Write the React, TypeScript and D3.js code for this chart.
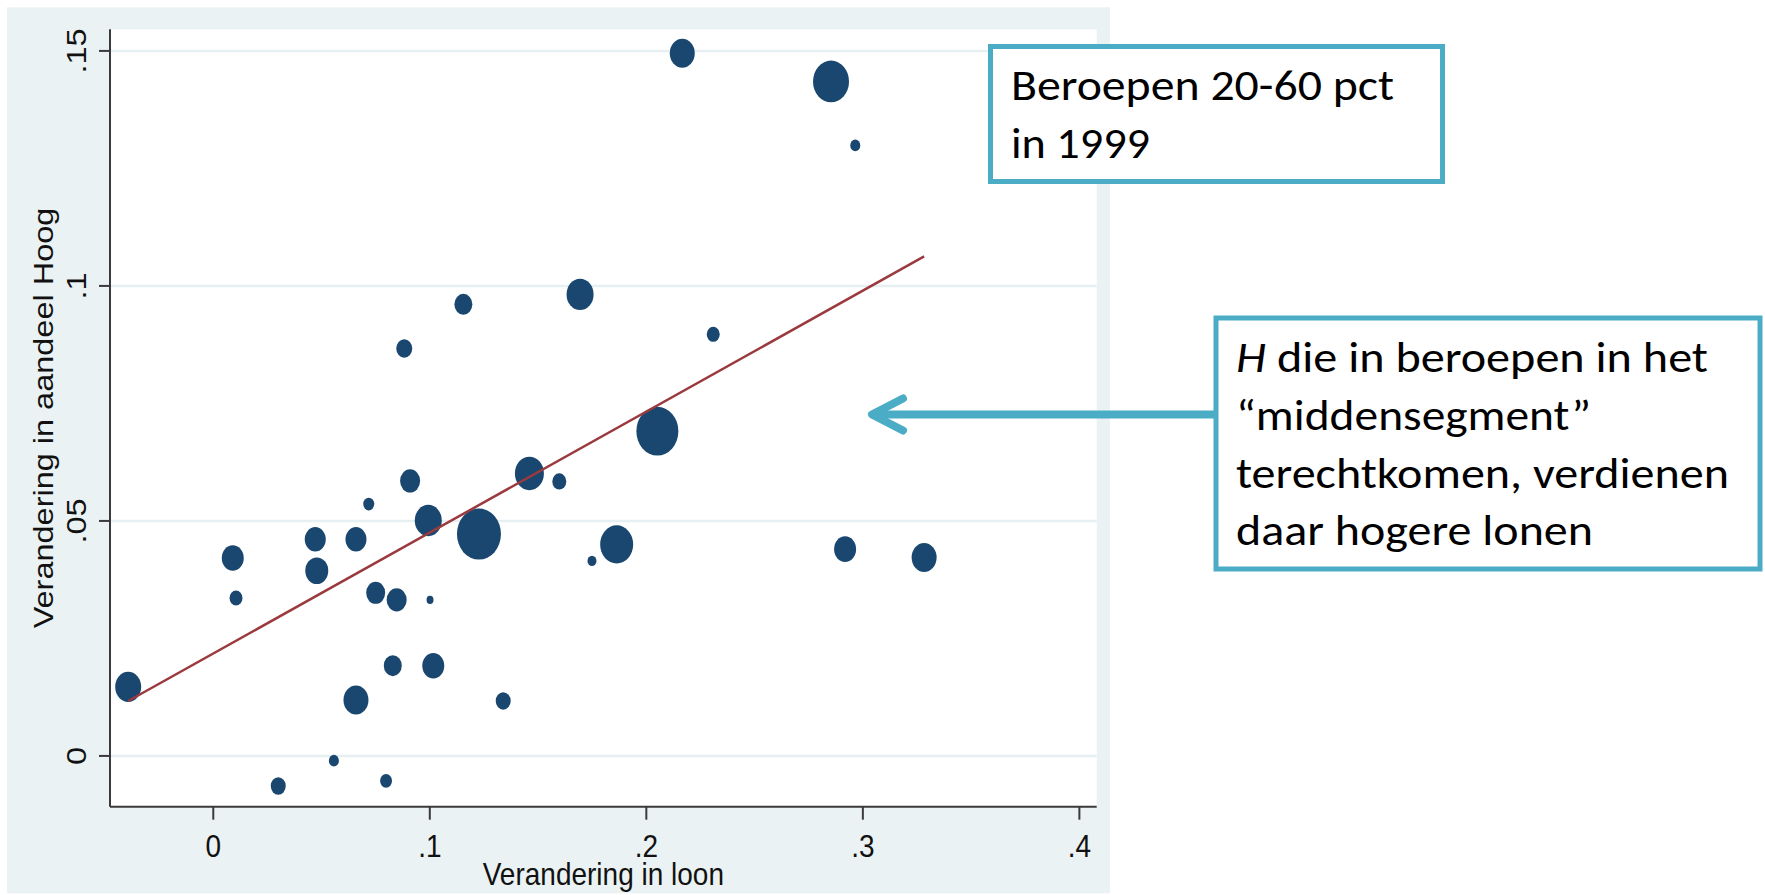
import React from "react";
import * as d3 from "d3";

// ---- data ----
const xLoon = [
  -0.0393, 0.009, 0.0105, 0.0471, 0.0478, 0.0659, 0.0718, 0.0909, 0.0993, 0.1227,
  0.146, 0.1598, 0.1749, 0.1863, 0.075, 0.0847, 0.1001, 0.0829, 0.1016, 0.0659,
  0.1339, 0.0557, 0.03, 0.0798, 0.2051, 0.2918, 0.3283, 0.0882, 0.1155, 0.1694,
  0.2166, 0.2853, 0.2965, 0.2309,
];
const yHoog = [
  0.0147, 0.0421, 0.0336, 0.0461, 0.0394, 0.0461, 0.0536, 0.0585, 0.0501, 0.0472,
  0.0601, 0.0584, 0.0415, 0.045, 0.0347, 0.0332, 0.0332, 0.0192, 0.0192, 0.0119,
  0.0117, -0.001, -0.0064, -0.0053, 0.0691, 0.044, 0.0422, 0.0867, 0.0961, 0.0982,
  0.1495, 0.1435, 0.1299, 0.0897,
];
const weights = [
  34.9, 25, 8.7, 22.8, 27.3, 22.8, 6.25, 20.7, 37.7, 100,
  43.4, 10.1, 4.2, 56.3, 18.6, 20.7, 2.5, 16.7, 25, 32.3,
  11.6, 5.2, 11.6, 7.4, 91.1, 25, 32.3, 13.2, 16.7, 37.7,
  32.3, 66.9, 5.2, 8.7,
];
const fitIntercept = 0.0218;
const fitSlope = 0.2573;

const xTicks = [0, 0.1, 0.2, 0.3, 0.4];
const xTickLabels = ["0", ".1", ".2", ".3", ".4"];
const yTicks = [0, 0.05, 0.1, 0.15];
const yTickLabels = ["0", ".05", ".1", ".15"];

const xTitle = "Verandering in loon";
const yTitle = "Verandering in aandeel Hoog";
const box1Lines = ["Beroepen 20-60 pct", "in 1999"];
const box2Lines = ["die in beroepen in het", "\u201Cmiddensegment\u201D", "terechtkomen, verdienen", "daar hogere lonen"];

// ---- layout ----
const W = 1765;
const H = 895;
const plot = { left: 110, right: 1096.7, top: 29.3, bottom: 806.7 };
const STRETCH = 1.16;

const BG = "#EAF2F3";
const NAVY = "#1a476f";
const MAROON = "#9b3a3e";
const ACCENT = "#4BACC6";
const AXIS = "#3a3a3a";
const STATA_FONT = "'Liberation Sans', Arial, Helvetica, sans-serif";
const NOTE_FONT = "Carlito, Calibri, Lato, 'Open Sans', sans-serif";

export default function App() {
  const x = d3.scaleLinear().domain([-0.0477, 0.408]).range([plot.left, plot.right]);
  const y = d3.scaleLinear().domain([-0.0108, 0.1546]).range([plot.bottom, plot.top]);
  const r = d3.scaleSqrt().domain([0, 100]).range([0, 22]);

  const [xmin, xmax] = d3.extent(xLoon) as [number, number];
  const fitLine = d3.line<number>()
    .x((d) => x(d))
    .y((d) => y(fitIntercept + fitSlope * d));

  const noteSize = 43;

  return (
    <svg
      width={W}
      height={H}
      style={{ position: "absolute", left: 0, top: 0, display: "block" }}
      xmlns="http://www.w3.org/2000/svg"
    >
      <rect x={0} y={0} width={W} height={H} fill="#ffffff" />
      {/* graph region */}
      <rect x={7} y={7.3} width={1103} height={886} fill={BG} />
      {/* plot region */}
      <rect x={plot.left} y={plot.top} width={plot.right - plot.left} height={plot.bottom - plot.top} fill="#ffffff" />

      {/* grid */}
      {yTicks.map((t) => (
        <line key={"g" + t} x1={plot.left} x2={plot.right} y1={y(t)} y2={y(t)} stroke="#E6EFF1" strokeWidth={2.5} />
      ))}

      {/* points */}
      {xLoon.map((xv, i) => {
        const rx = r(weights[i]);
        return (
          <ellipse key={"p" + i} cx={x(xv)} cy={y(yHoog[i])} rx={rx} ry={rx * STRETCH} fill={NAVY} />
        );
      })}

      {/* fitted line */}
      <path d={fitLine([xmin, xmax]) || ""} fill="none" stroke={MAROON} strokeWidth={2.5} />

      {/* axes */}
      <line x1={plot.left} x2={plot.left} y1={plot.top} y2={plot.bottom} stroke={AXIS} strokeWidth={2} />
      <line x1={plot.left} x2={plot.right} y1={plot.bottom} y2={plot.bottom} stroke={AXIS} strokeWidth={2} />
      {yTicks.map((t, i) => (
        <g key={"yt" + t}>
          <line x1={plot.left - 11} x2={plot.left} y1={y(t)} y2={y(t)} stroke={AXIS} strokeWidth={2} />
          <text
            transform={`translate(86,${y(t)}) scale(1,${STRETCH}) rotate(-90)`}
            textAnchor="middle"
            fontFamily={STATA_FONT}
            fontSize={28}
            fill="#111"
          >
            {yTickLabels[i]}
          </text>
        </g>
      ))}
      {xTicks.map((t, i) => (
        <g key={"xt" + t}>
          <line x1={x(t)} x2={x(t)} y1={plot.bottom} y2={plot.bottom + 13} stroke={AXIS} strokeWidth={2} />
          <text
            transform={`translate(${x(t)},856.7) scale(1,1.12)`}
            textAnchor="middle"
            fontFamily={STATA_FONT}
            fontSize={28}
            fill="#111"
          >
            {xTickLabels[i]}
          </text>
        </g>
      ))}
      <text
        transform={`translate(${(plot.left + plot.right) / 2},885) scale(1,1.12)`}
        textAnchor="middle"
        fontFamily={STATA_FONT}
        fontSize={28}
        fill="#111"
      >
        {xTitle}
      </text>
      <text
        transform={`translate(53,${(plot.top + plot.bottom) / 2}) scale(1,${STRETCH}) rotate(-90)`}
        textAnchor="middle"
        fontFamily={STATA_FONT}
        fontSize={28}
        fill="#111"
      >
        {yTitle}
      </text>

      {/* annotation box 1 */}
      <rect x={990.5} y={46.5} width={452} height={135} fill="#ffffff" stroke={ACCENT} strokeWidth={5} />
      <text x={1011} y={100} fontFamily={NOTE_FONT} fontSize={noteSize} fill="#000" textLength={383} lengthAdjust="spacingAndGlyphs">
        {box1Lines[0]}
      </text>
      <text x={1011} y={158.3} fontFamily={NOTE_FONT} fontSize={noteSize} fill="#000" textLength={139} lengthAdjust="spacingAndGlyphs">
        {box1Lines[1]}
      </text>

      {/* arrow */}
      <line x1={875} x2={1214} y1={414.5} y2={414.5} stroke={ACCENT} strokeWidth={8} />
      <path d="M903,398.5 L872,414.5 L903,430.5" fill="none" stroke={ACCENT} strokeWidth={8} strokeLinecap="round" strokeLinejoin="round" />

      {/* annotation box 2 */}
      <rect x={1216} y={318} width={544} height={251} fill="#ffffff" stroke={ACCENT} strokeWidth={5} />
      <text x={1236} y={372.3} fontFamily={NOTE_FONT} fontSize={noteSize} fill="#000" textLength={472} lengthAdjust="spacingAndGlyphs">
        <tspan fontStyle="italic">H</tspan>
        <tspan>{" " + box2Lines[0]}</tspan>
      </text>
      <text x={1236} y={430} fontFamily={NOTE_FONT} fontSize={noteSize} fill="#000" textLength={355} lengthAdjust="spacingAndGlyphs">
        {box2Lines[1]}
      </text>
      <text x={1236} y={488.3} fontFamily={NOTE_FONT} fontSize={noteSize} fill="#000" textLength={493} lengthAdjust="spacingAndGlyphs">
        {box2Lines[2]}
      </text>
      <text x={1236} y={545} fontFamily={NOTE_FONT} fontSize={noteSize} fill="#000" textLength={357} lengthAdjust="spacingAndGlyphs">
        {box2Lines[3]}
      </text>
    </svg>
  );
}
